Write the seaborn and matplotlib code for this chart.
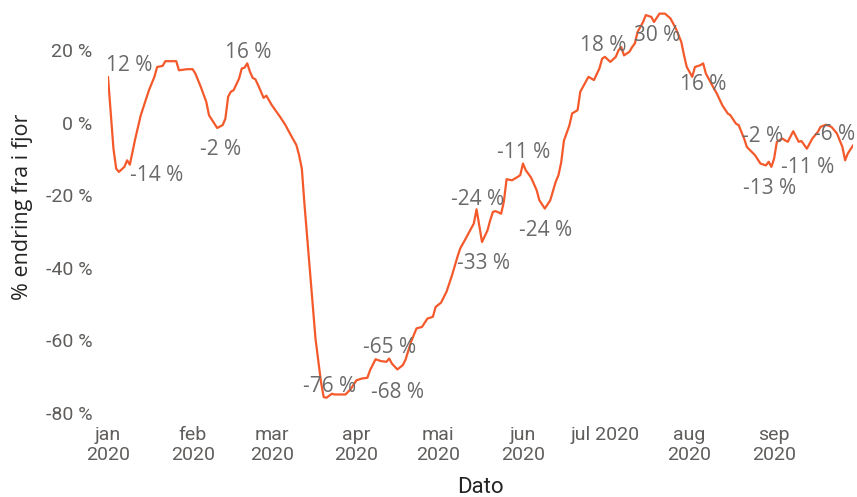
import pandas as pd
import matplotlib.pyplot as plt
import seaborn as sns

# DATA (day 0 = 1 Jan 2020)
days = [0, 2, 3, 4, 6, 7, 8, 10, 12, 13, 15, 17, 18, 20, 21, 25, 26, 29, 31, 32,
        34, 36, 37, 39, 40, 42, 43, 44, 45, 46, 48, 49, 50, 51, 52, 53, 54, 55, 57, 58,
        60, 63, 65, 67, 69, 70, 71, 72, 74, 76, 78, 79, 80, 82, 83, 85, 87, 89, 91, 93,
        95, 96, 98, 100, 102, 103, 104, 106, 108, 109, 111, 113, 115, 117, 119, 120, 122, 124, 126, 128,
        129, 131, 133, 134, 135, 137, 139, 140, 141, 142, 144, 145, 146, 148, 150, 151, 152, 153, 155, 157,
        158, 160, 162, 164, 165, 166, 167, 169, 170, 172, 173, 175, 176, 178, 180, 181, 182, 184, 186, 187,
        188, 189, 191, 192, 193, 194, 196, 197, 199, 200, 202, 204, 206, 208, 210, 211, 212, 214, 215, 217,
        218, 219, 221, 223, 225, 227, 228, 230, 231, 233, 234, 237, 239, 241, 242, 243, 244, 245, 247, 248,
        249, 251, 253, 254, 256, 258, 260, 261, 263, 265, 267, 269, 270, 271, 273]
change = [12.6, -7.2, -12.7, -13.6, -12.2, -10.4, -11.6, -4.4, 2.0, 4.3, 8.9, 12.6, 15.3, 15.6, 16.9, 16.9, 14.4, 14.7, 14.7, 13.5,
          9.8, 5.7, 2.0, -0.3, -1.5, -0.7, 1.1, 7.1, 8.5, 8.9, 12.1, 14.9, 15.1, 16.3, 14.0, 12.3, 11.9, 10.3, 6.8, 7.4,
          4.8, 1.6, -0.7, -3.5, -6.2, -9.0, -12.7, -22.8, -41.1, -59.5, -71.4, -75.6, -75.8, -74.7, -74.9, -74.9, -74.9, -73.3, -71.0, -70.5,
          -70.3, -68.2, -65.2, -65.7, -65.9, -65.0, -66.4, -68.0, -66.8, -65.3, -60.4, -56.7, -56.3, -54.0, -53.5, -50.8, -49.6, -46.6, -42.1, -37.0,
          -34.7, -32.0, -29.2, -27.8, -23.9, -32.9, -29.7, -26.9, -24.6, -24.4, -25.1, -21.8, -15.6, -15.9, -15.0, -14.5, -11.3, -13.1, -15.2, -18.6,
          -21.4, -23.7, -21.4, -16.3, -14.5, -11.0, -5.0, -0.8, 2.5, 3.4, 8.5, 11.2, 12.6, 11.7, 14.9, 17.6, 18.1, 16.7, 18.1, 19.9,
          20.8, 18.5, 19.5, 20.8, 21.8, 25.0, 27.7, 29.6, 29.1, 27.7, 30.0, 30.0, 28.7, 25.9, 22.2, 18.5, 15.3, 12.6, 15.3, 15.8,
          16.3, 13.5, 10.7, 8.0, 4.8, 2.5, 2.0, -0.3, -0.7, -4.4, -6.7, -9.0, -11.3, -11.8, -10.8, -12.2, -9.9, -5.3, -4.4, -4.9,
          -5.3, -2.4, -5.3, -5.1, -7.2, -4.4, -2.6, -1.2, -0.6, -1.2, -3.0, -6.7, -10.4, -8.5, -6.2]
assert len(days) == len(change)

# data labels as shown by the report
label_days = [7.9, 17.8, 41.4, 51.5, 81.3, 103.3, 106.2, 135.2, 137.4, 152.4,
              160.1, 181.3, 201.0, 218.1, 239.7, 242.5, 256.4, 266.3]
label_y = [14.1, -16.0, -9.0, 17.8, -74.3, -63.6, -75.8, -22.6, -40.4, -9.7,
           -31.2, 19.6, 22.4, 8.9, -5.3, -19.8, -13.8, -4.9]
label_txt = ["12 %", "-14 %", "-2 %", "16 %", "-76 %", "-65 %", "-68 %", "-24 %", "-33 %", "-11 %",
             "-24 %", "18 %", "30 %", "16 %", "-2 %", "-13 %", "-11 %", "-6 %"]

month_starts = ["2020-01-01", "2020-02-01", "2020-03-01", "2020-04-01", "2020-05-01",
                "2020-06-01", "2020-07-01", "2020-08-01", "2020-09-01"]
month_labels = ["jan\n2020", "feb\n2020", "mar\n2020", "apr\n2020", "mai\n2020",
                "jun\n2020", "jul 2020", "aug\n2020", "sep\n2020"]
yticks = [20, 0, -20, -40, -60, -80]

start = pd.Timestamp("2020-01-01")
df = pd.DataFrame({"Dato": start + pd.to_timedelta(days, unit="D"), "endring": change})

# STYLE
sns.set_theme(style="white")
plt.rcParams["font.family"] = ["Open Sans", "DejaVu Sans"]
line_col = "#F4592B"
tick_col = "#605E5C"
title_col = "#252423"
label_col = "#6A6A6A"

fig = plt.figure(figsize=(8.57, 4.97), dpi=100)
ax = fig.add_axes([108 / 857, 1 - 413 / 497, (853.3 - 108) / 857, (413 - 10) / 497])

sns.lineplot(data=df, x="Dato", y="endring", color=line_col, linewidth=1.6, ax=ax)

for d, yv, t in zip(label_days, label_y, label_txt):
    ax.text(start + pd.Timedelta(days=d), yv, t, ha="center", va="baseline",
            fontsize=15, color=label_col, family=["Open Sans", "DejaVu Sans"])

ax.set_xlim(start, start + pd.Timedelta(days=273))
ax.set_ylim(-80, 31)
ax.set_xticks(pd.to_datetime(month_starts))
ax.set_xticklabels(month_labels, family=["Roboto", "DejaVu Sans"], fontsize=14,
                   color=tick_col, linespacing=1.15)
ax.set_yticks(yticks)
ax.set_yticklabels([f"{v} %" for v in yticks], family=["Roboto", "DejaVu Sans"],
                   fontsize=14, color=tick_col)
ax.tick_params(axis="x", length=0, pad=9)
ax.tick_params(axis="y", length=0, pad=11)
sns.despine(ax=ax, left=True, bottom=True)

ax.set_xlabel("Dato", fontsize=16, color=title_col, family=["Roboto", "DejaVu Sans"])
ax.set_ylabel("% endring fra i fjor", fontsize=15.5, color=title_col)
ax.xaxis.set_label_coords(0.5, -0.158)
ax.yaxis.set_label_coords(-0.10, 0.512)

fig.savefig("out.png", dpi=100)
